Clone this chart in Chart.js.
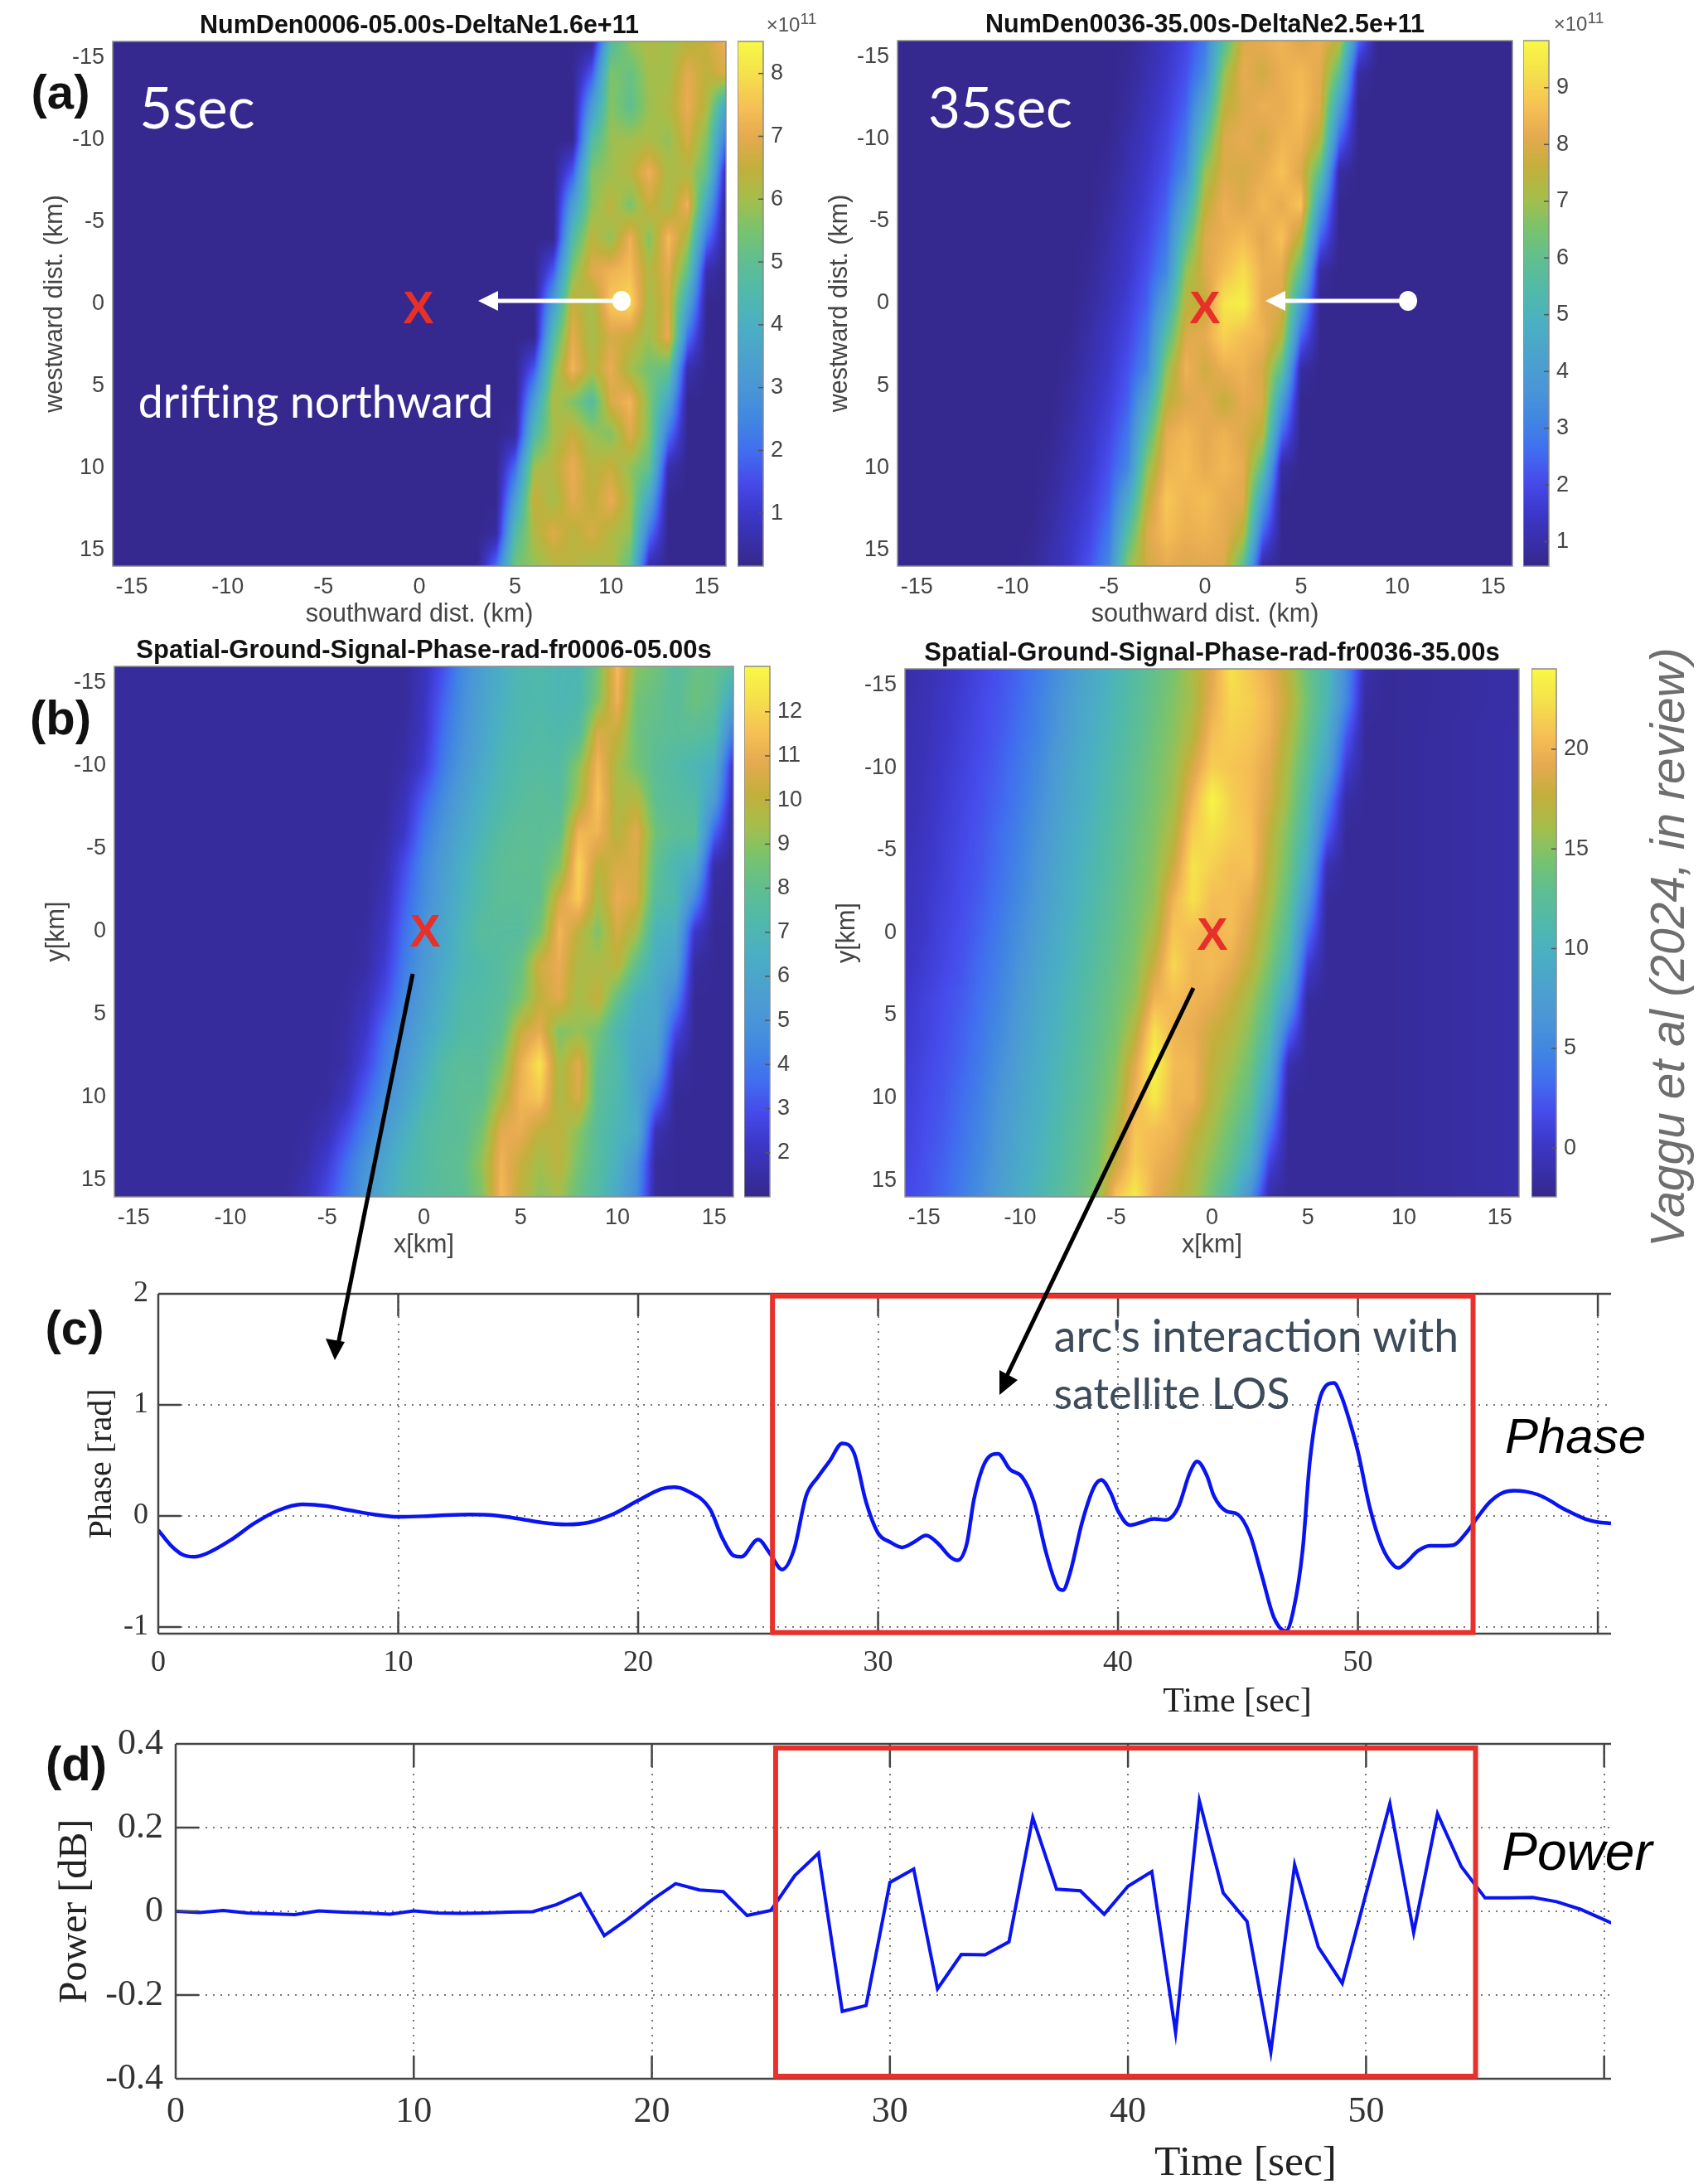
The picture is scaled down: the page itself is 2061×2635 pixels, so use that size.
<!DOCTYPE html>
<html>
<head>
<meta charset="utf-8">
<title>Arc drift, phase and power</title>
<script src="https://cdn.jsdelivr.net/npm/chart.js@4/dist/chart.umd.js"></script>
<style>
    html, body { margin: 0; padding: 0; background: #fff; }
    #page { position: relative; width: 2061px; height: 2635px; overflow: hidden; }
    #page canvas { position: absolute; }
    .note { position: absolute; white-space: nowrap; transform: translate(-50%, -50%); z-index: 5; }
    svg { position: absolute; left: 0; top: 0; z-index: 4; }
    sup { font-size: 0.8em; }
</style>
</head>
<body>
<div id="page"></div>
<script>
// km axis of the four maps
const kmTicks = [-15, -10, -5, 0, 5, 10, 15];
const kmRows = [-16, -14, -12, -10, -8, -6, -4, -2, 0, 2, 4, 6, 8, 10, 12, 14, 16];

// (a) 5 sec, density in 1e11
const den5Cols = [-16, 3, 4, 5, 6, 7, 8, 9, 10, 11, 12, 13, 14, 15, 16];
const den5 = [
    [.2,.2,.2,.2,.2,.2,.2,.2,4.6,5.8,6.2,6,6.3,6.6,7.2],
    [.2,.2,.2,.2,.2,.2,.2,1.7,5.6,5.2,6,6,7,6.4,6.8],
    [.2,.2,.2,.2,.2,.2,.2,3.2,5.7,5,5.9,6.2,7.1,6.2,3.6],
    [.2,.2,.2,.2,.2,.2,.2,4.6,5.9,6,6.1,5.8,6.8,5.6,2.1],
    [.2,.2,.2,.2,.2,.2,1.7,5.6,5.9,6.3,7.2,6.1,6.2,5.1,.6],
    [.2,.2,.2,.2,.2,.2,3.3,5.7,6.4,5.5,6.6,6,7.2,3.6,.2],
    [.2,.2,.2,.2,.2,.2,4.6,6.4,5.8,7.2,5.6,7.4,6.1,2.1,.2],
    [.2,.2,.2,.2,.2,1.7,5.6,6.9,7.2,7.4,6.2,7,5.1,.6,.2],
    [.2,.2,.2,.2,.2,3.3,6.6,6,7.6,7.9,6,6.8,3.6,.2,.2],
    [.2,.2,.2,.2,.2,4.6,7,6,6.8,6.6,5.9,7.1,2.1,.2,.2],
    [.2,.2,.2,.2,1.7,5.6,7.3,6.2,7.1,6,5.4,5.1,.6,.2,.2],
    [.2,.2,.2,.2,3.3,6.2,5.6,4.7,6.8,7.3,5.6,3.6,.2,.2,.2],
    [.2,.2,.2,.4,4.6,6,6.6,5.9,5.6,6.9,5.6,2.1,.2,.2,.2],
    [.2,.2,.2,2,6,6.3,7.1,6.3,6.6,5.8,5.1,.6,.2,.2,.2],
    [.2,.2,.2,3.3,6.6,6,7,6.4,7.1,6,3.6,.2,.2,.2,.2],
    [.2,.2,.4,4.6,6.2,6.9,6.3,6.8,6.2,5.8,2.1,.2,.2,.2,.2],
    [.2,.2,2,5.4,5.8,6.2,6.4,6,6.2,5.1,.6,.2,.2,.2,.2],
];
const den5Ticks = [1, 2, 3, 4, 5, 6, 7, 8];

// (a) 35 sec, density in 1e11
const den35Cols = [-16, -10, -9, -8, -7, -6, -5, -4, -3, -2, -1, 0, 1, 2, 3, 4, 5, 6, 7, 8, 9, 16];
const den35 = [
    [.6,.6,.6,.6,.6,.6,.6,.65,1,1.4,1.9,2.8,5.7,8,8.2,8.4,8,8.3,7.4,2.5,.6,.6],
    [.6,.6,.6,.6,.6,.6,.6,.75,1.1,1.55,2.1,3.3,6.9,8.2,7.8,8.3,8.5,8.1,5.9,.9,.6,.6],
    [.6,.6,.6,.6,.6,.6,.6,.85,1.25,1.7,2.4,4.5,7.5,8,8.3,8.2,8.6,8,4,.6,.6,.6],
    [.6,.6,.6,.6,.6,.6,.65,1,1.4,1.9,2.8,5.7,8,8.2,7.9,8.4,8.4,7.4,2.5,.6,.6,.6],
    [.6,.6,.6,.6,.6,.6,.75,1.1,1.55,2.1,3.3,6.9,8,7.9,8.2,8.7,8,5.9,.9,.6,.6,.6],
    [.6,.6,.6,.6,.6,.6,.85,1.25,1.7,2.4,4.5,7.5,8.3,8,8.5,8.2,8.8,4,.6,.6,.6,.6],
    [.6,.6,.6,.6,.6,.65,1,1.4,1.9,2.8,5.7,8,8.3,8.6,8.1,8.7,7.4,2.5,.6,.6,.6,.6],
    [.6,.6,.6,.6,.6,.75,1.1,1.5,2.15,3.2,6.8,8,8.6,9.2,8.3,8.2,5.9,.9,.6,.6,.6,.6],
    [.6,.6,.6,.6,.6,.85,1.2,1.7,2.4,4.4,7.5,7.6,9.4,9.6,8.2,8,4,.6,.6,.6,.6,.6],
    [.6,.6,.6,.6,.65,1,1.4,1.9,2.8,5.7,8,8.2,9,8.6,8.4,7.4,2.5,.6,.6,.6,.6,.6],
    [.6,.6,.6,.6,.75,1.1,1.5,2.15,3.2,6.8,8.4,7.8,8.3,8.4,7.9,5.9,.9,.6,.6,.6,.6,.6],
    [.6,.6,.6,.6,.85,1.25,1.7,2.4,4.5,7.5,8,8.2,7.6,8.2,8,4,.6,.6,.6,.6,.6,.6],
    [.6,.6,.6,.65,1,1.4,1.9,2.8,5.7,8.2,8.5,8.1,8.4,8,7.4,2.5,.6,.6,.6,.6,.6,.6],
    [.6,.6,.6,.75,1.1,1.5,2.15,3.2,6.8,8.4,8.6,8.2,8.5,8.2,5.9,.9,.6,.6,.6,.6,.6,.6],
    [.6,.6,.6,.85,1.25,1.7,2.4,4.5,7.5,8.8,8.4,8.6,8.2,8.1,4,.6,.6,.6,.6,.6,.6,.6],
    [.6,.6,.65,1,1.4,1.9,2.8,5.7,8,8.6,8.3,8.4,8.2,7.4,2.5,.6,.6,.6,.6,.6,.6,.6],
    [.6,.6,.75,1.1,1.5,2.15,3.2,6.8,7.8,8.2,8,8.1,8,5.9,.9,.6,.6,.6,.6,.6,.6,.6],
];
const den35Ticks = [1, 2, 3, 4, 5, 6, 7, 8, 9];

// (b) 5 sec, phase in rad
const ph5Cols = [-16, -9, -8, -7, -6, -5, -4, -3, -2, -1, 0, 1, 2, 3, 4, 5, 6, 7, 8, 9, 10, 11, 12, 13, 14, 15, 16];
const ph5 = [
    [1.3,1.3,1.3,1.3,1.3,1.3,1.3,1.3,1.3,1.3,1.9,3,4.5,5.6,6.5,7.1,7.3,7,7,8.5,11.4,9,8.5,7.6,8.2,8.2,7.5],
    [1.3,1.3,1.3,1.3,1.3,1.3,1.3,1.3,1.3,1.3,2,3.4,4.7,5.8,6.6,7.1,7.2,7,7.1,8.8,11.2,8.5,8.2,7.7,8.4,8,6],
    [1.3,1.3,1.3,1.3,1.3,1.3,1.3,1.3,1.3,1.4,2.1,3.7,4.9,5.9,6.8,7.2,7.4,7.2,7.5,10.6,10.2,8.4,8,7.8,7.8,7.5,4],
    [1.3,1.3,1.3,1.3,1.3,1.3,1.3,1.3,1.3,1.5,2.4,4,5.2,6.2,7,7.4,7.5,7.4,9,11.3,9.5,8.6,7.8,7.4,7,6.5,2],
    [1.3,1.3,1.3,1.3,1.3,1.3,1.3,1.3,1.3,1.9,3.3,4.6,5.7,6.6,7.2,7.6,7.8,7.6,9.5,11.6,9.6,9.8,7.9,7.6,7.4,5.5,1.5],
    [1.3,1.3,1.3,1.3,1.3,1.3,1.3,1.3,1.4,2.2,3.9,5.1,6.1,6.9,7.6,7.9,7.8,8,11.2,11.2,9.8,10.8,8.4,7.8,7.8,3.5,1.3],
    [1.3,1.3,1.3,1.3,1.3,1.3,1.3,1.3,1.6,2.9,4.4,5.5,6.5,7.3,7.8,8,7.9,8.8,12,10,10.5,10.6,8,7,6.5,1.6,1.2],
    [1.3,1.3,1.3,1.3,1.3,1.3,1.3,1.3,1.8,3.3,4.6,5.7,6.7,7.4,7.9,7.8,8,10.5,11.8,9.5,11,10.5,7.6,7.2,4.5,1.3,1.2],
    [1.3,1.3,1.3,1.3,1.3,1.3,1.3,1.4,2.1,3.7,5,6,7,7.7,7.6,7.6,8.6,11.3,10,8.8,10.5,9.5,6.8,6.5,2.2,1.2,1.2],
    [1.3,1.3,1.3,1.3,1.3,1.3,1.3,1.5,2.4,4,5.2,6.2,7,7.3,7.6,8.2,10.4,11,9.6,9.6,10,8,6.4,5.8,1.4,1.2,1.2],
    [1.3,1.3,1.3,1.3,1.3,1.3,1.4,1.8,2.9,4.4,5.5,6.5,7.3,7.4,7.7,8.6,10.1,10.8,9.4,10.2,8.2,6.6,6.2,4.4,1.2,1.2,1.2],
    [1.3,1.3,1.3,1.3,1.3,1.3,1.5,2.2,3.7,4.9,5.9,6.8,7.4,7.5,8,10.2,10.9,8.8,9.2,8.6,7,6.2,6.1,2.8,1.2,1.2,1.2],
    [1.3,1.3,1.3,1.3,1.3,1.3,1.6,2.7,4.1,5.3,6.4,7.5,7.8,7.7,8.8,11,12.4,9.4,10.8,8,7.3,6,5.5,1.6,1.2,1.2,1.2],
    [1.3,1.3,1.3,1.3,1.3,1.4,2,3.4,4.7,5.8,6.9,7.6,7.9,8,9.6,11.2,11.7,9.6,10.6,7.8,7.2,6.1,3.8,1.2,1.2,1.2,1.2],
    [1.3,1.3,1.3,1.3,1.4,1.8,2.9,4.2,5.4,6.5,7.4,7.7,7.8,8.6,10.8,11,10,10,9,7.6,6.9,6.4,1.8,1.2,1.2,1.2,1.2],
    [1.3,1.3,1.3,1.3,1.6,2.4,3.7,5,6,7,7.4,7.8,8,9.2,11.2,10.2,9.4,10,8.6,7.6,6.6,5,1.3,1.2,1.2,1.2,1.2],
    [1.3,1.3,1.3,1.4,1.9,2.9,4.1,5.3,6.3,7.1,7.5,7.7,7.9,8.8,11.4,10,9,9.4,8.2,7.4,6.2,4.6,1.3,1.2,1.2,1.2,1.2],
];
const ph5Ticks = [2, 3, 4, 5, 6, 7, 8, 9, 10, 11, 12];

// (b) 35 sec, phase in rad
const ph35Cols = [-16, -15, -14, -13, -12, -11, -10, -9, -8, -7, -6, -5, -4, -3, -2, -1, 0, 1, 2, 3, 4, 5, 6, 7, 8, 9, 16];
const ph35 = [
    [-1.3,-.8,-.2,.5,1.3,2.1,3,4.2,5.8,7.7,9.2,10.5,11.9,13.2,14.5,16.5,19,22.6,21,19.5,17,13.5,11,5.5,-1,-1.9,-1.2],
    [-1.2,-.7,0,.7,1.6,2.3,3.3,4.6,6.3,8.2,9.5,10.9,12.2,13.5,14.9,16.3,19.5,22,21.5,20,17.6,14,10.8,5,-1.6,-1.9,-1.2],
    [-1,-.6,.1,.9,1.7,2.5,3.6,4.8,6.8,8.5,9.9,11.2,12.5,13.9,15.2,17,20.5,21.5,21,19.8,16.8,13.5,9.6,2.5,-1.9,-1.9,-1.1],
    [-.9,-.4,.3,1.1,1.9,2.8,4,5.4,7.4,9,10.3,11.6,13,14.3,15.6,18.5,21.5,21,20.5,19,16,12.5,8,.5,-1.9,-1.9,-1.1],
    [-.8,-.3,.5,1.3,2.1,3,4.2,5.8,7.7,9.2,10.5,11.9,13.2,14.5,16,20,23.8,21.5,20.5,18.5,15.5,11.5,5,-1.4,-1.9,-1.9,-1.1],
    [-.7,-.1,.7,1.5,2.3,3.4,4.6,6.4,8.2,9.6,10.9,12.3,13.6,14.9,16.8,21.5,22.5,21.5,20.8,17.5,14.5,10.5,2.5,-1.9,-1.9,-1.9,-1.1],
    [-.5,0,.8,1.7,2.4,3.6,4.9,6.8,8.5,9.9,11.2,12.5,13.9,15.2,18,22.6,21.5,20.5,20.8,17,14,9,-.8,-1.9,-1.9,-1.9,-1.1],
    [-.4,.2,1,1.8,2.7,3.9,5.3,7.2,8.8,10.2,11.5,12.9,14.2,15.6,20,22.5,20.5,20.6,19.5,16.5,13,6.5,-1.8,-1.9,-1.9,-1.9,-1.1],
    [-.3,.3,1.2,2,3,4.3,5.9,7.7,9.3,10.6,11.9,13.2,14.5,16.5,21,20.5,20,20.5,18.5,15.5,12,3.5,-1.9,-1.9,-1.9,-1.9,-1.1],
    [-.1,.6,1.4,2.2,3.4,4.6,6.4,8.2,9.6,10.9,12.3,13.6,14.9,18,22,20,20.5,19.5,17.5,14.5,10.5,.5,-1.9,-1.9,-1.9,-1.9,-1.1],
    [.2,1,1.8,2.5,3.7,5,7,8.7,10,11.3,12.7,14,15.5,20,20.5,20,19.5,18,16,13,7.5,-1.7,-1.9,-1.9,-1.9,-1.9,-1.1],
    [.3,1.1,1.9,2.8,4,5.4,7.4,9,10.3,11.6,13,14.3,17,22.5,20,19.5,18,17,15,11.5,3,-1.9,-1.9,-1.9,-1.9,-1.9,-1.1],
    [.6,1.4,2.1,3,4.3,6,7.9,9.4,10.7,12,13.3,15,19,23.8,20.5,20,17.5,16,14,9.5,-1,-1.9,-1.9,-1.9,-1.9,-1.9,-1.1],
    [.8,1.6,2.3,3.4,4.7,6.6,8.2,9.6,10.9,12.3,13.6,15.5,20,23,20,20,17,15,13,7,-1.9,-1.9,-1.9,-1.9,-1.9,-1.9,-1.1],
    [1,1.8,2.5,3.7,5,7,8.7,10,11.3,12.7,14,16.5,21,20.5,20,18,16,14,11.5,4,-1.9,-1.9,-1.9,-1.9,-1.9,-1.9,-1.1],
    [1.2,2,2.8,4,5.4,7.4,9,10.3,11.6,13,14.3,18,21.5,20,19,17,15,13,9.5,1,-1.9,-1.9,-1.9,-1.9,-1.9,-1.9,-1.1],
    [1.5,2.1,3,4.3,5.8,7.9,9.4,10.7,12,13.3,15,21,23,19.5,18,16.5,14,11,6,-1.4,-1.9,-1.9,-1.9,-1.9,-1.9,-1.9,-1.1],
];
const ph35Ticks = [0, 5, 10, 15, 20];

// (c) phase series
const phaseTime = [0,.5,1,1.5,2,3,4,5,6,7,8,9,10,11,12,13,14,15,16,17,18,19,20,21,21.5,22,23,23.5,24,24.3,25,25.5,26,26.5,27,27.5,28,28.5,29,29.5,30,30.5,31,31.5,32,32.5,33,33.3,33.7,34,34.5,35,35.5,36,36.5,37,37.5,37.7,38,38.5,39,39.3,39.7,40,40.5,41,41.5,42,42.5,43,43.3,43.7,44,44.5,45,45.5,46,46.5,47,47.3,47.7,48,48.5,49,49.3,49.7,50,50.5,51,51.5,51.7,52,52.5,53,53.5,54,54.5,55,55.5,56,56.5,57,57.5,58,58.5,59,59.5,60,60.55];
const phaseValue = [-.128,-.26,-.347,-.368,-.34,-.22,-.067,.05,.104,.09,.05,.013,-.008,-.003,.008,.013,.005,-.024,-.06,-.077,-.056,.02,.139,.245,.26,.232,.059,-.195,-.36,-.368,-.213,-.34,-.483,-.3,.18,.352,.5,.653,.565,.125,-.155,-.235,-.283,-.235,-.176,-.248,-.368,-.4,-.248,.152,.499,.56,.419,.352,.125,-.328,-.648,-.669,-.515,-.061,.259,.325,.205,.045,-.083,-.056,-.027,-.035,.072,.392,.491,.365,.179,.045,.013,-.168,-.541,-.915,-1.035,-.861,-.3,.499,1.112,1.197,1.085,.819,.579,.072,-.275,-.448,-.467,-.421,-.315,-.269,-.269,-.261,-.155,-.008,.125,.205,.227,.219,.192,.139,.072,.019,-.029,-.056,-.067];
const phaseTicks = [-1, 0, 1, 2];
const phaseWindow = [25.6, 54.8];

// (d) power series
const powerTime = [0,1,2,3,4,5,6,7,8,9,10,11,12,13,14,15,16,17,18,19,20,21,22,23,24,25,26,27,28,29,30,31,32,33,34,35,36,37,38,39,40,41,42,43,44,45,46,47,48,49,50,51,52,53,54,55,56,57,58,59,60,61];
const powerValue = [0,-.003,.002,-.004,-.006,-.008,.001,-.002,-.004,-.007,.001,-.004,-.005,-.004,-.002,-.001,.016,.042,-.058,-.018,.027,.066,.051,.047,-.01,.002,.085,.139,-.239,-.225,.069,.101,-.185,-.103,-.104,-.073,.224,.053,.049,-.007,.06,.095,-.29,.264,.044,-.024,-.336,.111,-.086,-.172,.043,.257,-.051,.233,.107,.032,.032,.033,.023,.005,-.02,-.046];
const powerTicks = [-.4, -.2, 0, .2, .4];
const powerWindow = [25.2, 54.6];

const timeTicks = [0, 10, 20, 30, 40, 50, 60];

// colour map
const mapStops = [
    [0, 53, 40, 140], [.1, 60, 55, 200], [.16, 70, 75, 235], [.22, 65, 110, 240],
    [.28, 65, 135, 225], [.34, 75, 150, 215], [.46, 75, 175, 195], [.52, 80, 185, 170],
    [.58, 95, 190, 145], [.64, 120, 195, 110], [.7, 165, 190, 75], [.76, 195, 175, 60],
    [.82, 230, 170, 80], [.87, 245, 190, 85], [.94, 245, 225, 75], [1, 248, 248, 70],
];

const SANS = '"Liberation Sans", Arial, sans-serif';
const SERIF = '"Liberation Serif", "Times New Roman", serif';
const page = document.getElementById("page");

function mapColor(t) {
    t = Math.min(1, Math.max(0, t));
    let i = 1;
    while (i < mapStops.length - 1 && mapStops[i][0] < t) i++;
    const a = mapStops[i - 1], b = mapStops[i];
    const f = (t - a[0]) / (b[0] - a[0]);
    return [a[1] + (b[1] - a[1]) * f, a[2] + (b[2] - a[2]) * f, a[3] + (b[3] - a[3]) * f];
}

function findCell(list, v) {
    let i = 0;
    while (i < list.length - 2 && list[i + 1] < v) i++;
    const f = (v - list[i]) / (list[i + 1] - list[i]);
    return [i, Math.min(1, Math.max(0, f))];
}

function addCanvas(left, top, width, height) {
    const c = document.createElement("canvas");
    c.width = width;
    c.height = height;
    c.style.left = left + "px";
    c.style.top = top + "px";
    c.style.width = width + "px";
    c.style.height = height + "px";
    page.appendChild(c);
    return c;
}

function fixedTicks(values) {
    return function (scale) {
        scale.ticks = values.map((v) => ({ value: v }));
    };
}

// paints the cell table through the chart's own scales
function heatPlugin(cols, rows, matrix, vmin, vmax) {
    return {
        id: "heat",
        beforeDatasetsDraw(chart) {
            const { ctx, chartArea: area, scales } = chart;
            const w = Math.round(area.width), h = Math.round(area.height);
            const off = document.createElement("canvas");
            off.width = w;
            off.height = h;
            const octx = off.getContext("2d");
            const img = octx.createImageData(w, h);
            for (let py = 0; py < h; py++) {
                const [r, fr] = findCell(rows, scales.y.getValueForPixel(area.top + py + 0.5));
                for (let px = 0; px < w; px++) {
                    const [c, fc] = findCell(cols, scales.x.getValueForPixel(area.left + px + 0.5));
                    const top = matrix[r][c] * (1 - fc) + matrix[r][c + 1] * fc;
                    const low = matrix[r + 1][c] * (1 - fc) + matrix[r + 1][c + 1] * fc;
                    const rgb = mapColor(((top * (1 - fr) + low * fr) - vmin) / (vmax - vmin));
                    const k = (py * w + px) * 4;
                    img.data[k] = rgb[0];
                    img.data[k + 1] = rgb[1];
                    img.data[k + 2] = rgb[2];
                    img.data[k + 3] = 255;
                }
            }
            octx.putImageData(img, 0, 0);
            ctx.drawImage(off, area.left, area.top);
            ctx.strokeStyle = "#8c8c8c";
            ctx.lineWidth = 1.5;
            ctx.strokeRect(area.left, area.top, area.width, area.height);
        },
    };
}

const gradientPlugin = {
    id: "gradientBar",
    beforeDatasetsDraw(chart) {
        const { ctx, chartArea: area, scales } = chart;
        const y = scales.y;
        for (let py = Math.floor(area.top); py < area.bottom; py++) {
            const rgb = mapColor((y.getValueForPixel(py + 0.5) - y.min) / (y.max - y.min));
            ctx.fillStyle = `rgb(${rgb[0]},${rgb[1]},${rgb[2]})`;
            ctx.fillRect(area.left, py, area.width, 1);
        }
        ctx.strokeStyle = "#8c8c8c";
        ctx.lineWidth = 1.5;
        ctx.strokeRect(area.left, area.top, area.width, area.height);
        ctx.strokeStyle = "#555";
        y.ticks.forEach((t) => {
            const p = y.getPixelForValue(t.value);
            ctx.beginPath();
            ctx.moveTo(area.right - 6, p);
            ctx.lineTo(area.right, p);
            ctx.stroke();
        });
    },
};

function heatPanel(p) {
    const ml = 88, mb = 77, mt = 46, mr = 6;
    const canvas = addCanvas(p.left - ml, p.top - mt, p.width + ml + mr, p.height + mt + mb);
    const tickFont = { family: SANS, size: 27 };
    const titleFont = { family: SANS, size: 30.5 };
    new Chart(canvas, {
        type: "scatter",
        data: { datasets: [{ data: [], pointRadius: 0 }] },
        plugins: [heatPlugin(p.cols, kmRows, p.matrix, p.vmin, p.vmax)],
        options: {
            responsive: false,
            animation: false,
            devicePixelRatio: 1,
            layout: { padding: { right: mr } },
            plugins: {
                legend: { display: false },
                tooltip: { enabled: false },
                title: {
                    display: true,
                    fullSize: false,
                    text: p.title,
                    color: "#111",
                    font: { family: SANS, size: p.titleSize, weight: "bold", lineHeight: 1.2 },
                    padding: { top: 46 - p.titleSize * 1.2, bottom: 0 },
                },
            },
            scales: {
                x: {
                    min: -16, max: 16,
                    afterBuildTicks: fixedTicks(kmTicks),
                    afterFit(s) { s.height = mb; },
                    grid: { display: false, drawTicks: false },
                    border: { display: false },
                    ticks: { color: "#444", font: tickFont, padding: 9, maxRotation: 0, autoSkip: false },
                    title: { display: true, text: p.xTitle, color: "#444", font: titleFont, padding: 0 },
                },
                y: {
                    min: -16, max: 16, reverse: true,
                    afterBuildTicks: fixedTicks(kmTicks),
                    afterFit(s) { s.width = ml; },
                    grid: { display: false, drawTicks: false },
                    border: { display: false },
                    ticks: { color: "#444", font: tickFont, padding: 10, autoSkip: false },
                    title: { display: true, text: p.yTitle, color: "#444", font: titleFont, padding: 0 },
                },
            },
        },
    });

    const labelW = 50;
    const barCanvas = addCanvas(p.barLeft, p.top - 40, p.barWidth + labelW, p.height + 80);
    new Chart(barCanvas, {
        type: "scatter",
        data: { datasets: [{ data: [], pointRadius: 0 }] },
        plugins: [gradientPlugin],
        options: {
            responsive: false,
            animation: false,
            devicePixelRatio: 1,
            layout: { padding: { top: 40, bottom: 40 } },
            plugins: { legend: { display: false }, tooltip: { enabled: false } },
            scales: {
                x: { display: false, min: 0, max: 1 },
                y: {
                    position: "right",
                    min: p.vmin, max: p.vmax,
                    afterBuildTicks: fixedTicks(p.barTicks),
                    afterFit(s) { s.width = labelW; },
                    grid: { display: false, drawTicks: false },
                    border: { display: false },
                    ticks: { color: "#444", font: tickFont, padding: 9, autoSkip: false },
                },
            },
        },
    });
}

// box ticks that point inward, as in the source plots
const innerAxes = {
    id: "innerAxes",
    afterDatasetsDraw(chart, args, opts) {
        const { ctx, chartArea: a, scales: { x, y } } = chart;
        ctx.save();
        ctx.strokeStyle = "#444";
        ctx.lineWidth = opts.width;
        ctx.beginPath();
        ctx.moveTo(a.left, a.top); ctx.lineTo(a.right, a.top);
        ctx.moveTo(a.left, a.bottom); ctx.lineTo(a.right, a.bottom);
        ctx.moveTo(a.left, a.top); ctx.lineTo(a.left, a.bottom);
        x.ticks.forEach((t) => {
            const p = x.getPixelForValue(t.value);
            if (p <= a.left + 1) return;
            ctx.moveTo(p, a.top); ctx.lineTo(p, a.top + opts.length);
            ctx.moveTo(p, a.bottom); ctx.lineTo(p, a.bottom - opts.length);
        });
        y.ticks.forEach((t) => {
            const p = y.getPixelForValue(t.value);
            ctx.moveTo(a.left, p); ctx.lineTo(a.left + opts.length, p);
        });
        ctx.stroke();
        ctx.restore();
    },
};

const windowBox = {
    id: "windowBox",
    afterDatasetsDraw(chart, args, opts) {
        const { ctx, scales: { x, y } } = chart;
        const left = x.getPixelForValue(opts.span[0]), right = x.getPixelForValue(opts.span[1]);
        const top = y.getPixelForValue(opts.yRange[1]), bottom = y.getPixelForValue(opts.yRange[0]);
        ctx.save();
        ctx.strokeStyle = "#e8312a";
        ctx.lineWidth = 6;
        ctx.strokeRect(left, top, right - left, bottom - top);
        ctx.restore();
    },
};

function linePanel(p) {
    const canvas = addCanvas(p.left - p.ml, p.top - p.mt, p.width + p.ml + p.mr, p.height + p.mt + p.mb);
    const tickFont = { family: SERIF, size: p.tickSize };
    new Chart(canvas, {
        type: "line",
        data: {
            labels: p.time,
            datasets: [{
                data: p.time.map((t, i) => ({ x: t, y: p.values[i] })),
                borderColor: "#0a14f0",
                borderWidth: p.lineWidth,
                pointRadius: 0,
                fill: false,
                cubicInterpolationMode: p.smooth ? "monotone" : "default",
                tension: 0,
            }],
        },
        plugins: [innerAxes, windowBox],
        options: {
            responsive: false,
            animation: false,
            devicePixelRatio: 1,
            layout: { padding: { top: p.mt, right: p.mr } },
            plugins: {
                legend: { display: false },
                tooltip: { enabled: false },
                innerAxes: { width: 2.5, length: p.tickLen },
                windowBox: { span: p.span, yRange: p.boxY },
            },
            scales: {
                x: {
                    type: "linear",
                    min: 0, max: p.xMax,
                    afterBuildTicks: fixedTicks(timeTicks),
                    afterFit(s) { s.height = p.mb; },
                    grid: { color: "#777", lineWidth: 2, drawTicks: false },
                    border: { display: false, dash: [2, 7] },
                    ticks: {
                        color: "#333", font: tickFont, padding: p.xPad, maxRotation: 0, autoSkip: false,
                        callback: (v) => (v === 60 ? "" : v),
                    },
                },
                y: {
                    min: p.yMin, max: p.yMax,
                    afterBuildTicks: fixedTicks(p.yTicks),
                    afterFit(s) { s.width = p.ml; },
                    grid: { color: "#777", lineWidth: 2, drawTicks: false },
                    border: { display: false, dash: [2, 7] },
                    ticks: { color: "#333", font: tickFont, padding: p.yPad, autoSkip: false, callback: (v) => String(v) },
                    title: { display: true, text: p.yTitle, color: "#222", font: { family: SERIF, size: p.titleSize }, padding: 0 },
                },
            },
        },
    });
}

function note(html, x, y, css) {
    const d = document.createElement("div");
    d.className = "note";
    d.innerHTML = html;
    d.style.left = x + "px";
    d.style.top = y + "px";
    d.style.cssText += css;
    page.appendChild(d);
}

heatPanel({
    left: 136, top: 50, width: 740, height: 633, cols: den5Cols, matrix: den5,
    vmin: 0.16, vmax: 8.51, barLeft: 890, barWidth: 31, barTicks: den5Ticks, titleSize: 30.5,
    title: "NumDen0006-05.00s-DeltaNe1.6e+11", xTitle: "southward dist. (km)", yTitle: "westward dist. (km)",
});
heatPanel({
    left: 1083, top: 49, width: 742, height: 634, cols: den35Cols, matrix: den35,
    vmin: 0.57, vmax: 9.83, barLeft: 1838, barWidth: 31, barTicks: den35Ticks, titleSize: 30.5,
    title: "NumDen0036-35.00s-DeltaNe2.5e+11", xTitle: "southward dist. (km)", yTitle: "westward dist. (km)",
});
heatPanel({
    left: 138, top: 804, width: 747, height: 640, cols: ph5Cols, matrix: ph5,
    vmin: 1.0, vmax: 13.03, barLeft: 898, barWidth: 31, barTicks: ph5Ticks, titleSize: 31,
    title: "Spatial-Ground-Signal-Phase-rad-fr0006-05.00s", xTitle: "x[km]", yTitle: "y[km]",
});
heatPanel({
    left: 1092, top: 807, width: 741, height: 637, cols: ph35Cols, matrix: ph35,
    vmin: -2.45, vmax: 24.03, barLeft: 1848, barWidth: 30, barTicks: ph35Ticks, titleSize: 31,
    title: "Spatial-Ground-Signal-Phase-rad-fr0036-35.00s", xTitle: "x[km]", yTitle: "y[km]",
});

linePanel({
    left: 191, top: 1561, width: 1753, height: 410, ml: 92, mt: 60, mr: 20, mb: 60,
    time: phaseTime, values: phaseValue, smooth: true, lineWidth: 4.5,
    xMax: 60.55, yMin: -1.06, yMax: 2, yTicks: phaseTicks, span: phaseWindow, boxY: [-1.05, 1.98],
    tickSize: 36, titleSize: 40, tickLen: 27, xPad: 14, yPad: 12, yTitle: "Phase [rad]",
});
linePanel({
    left: 212, top: 2104, width: 1732, height: 404, ml: 149, mt: 60, mr: 20, mb: 70,
    time: powerTime, values: powerValue, smooth: false, lineWidth: 4,
    xMax: 60.29, yMin: -0.4, yMax: 0.4, yTicks: powerTicks, span: powerWindow, boxY: [-0.394, 0.39],
    tickSize: 44, titleSize: 48, tickLen: 28, xPad: 14, yPad: 15, yTitle: "Power [dB]",
});

// panel letters and call-outs
const panelCss = `font:bold 58px ${SANS};color:#111;`;
note("(a)", 73, 110, panelCss);
note("(b)", 73, 865, panelCss);
note("(c)", 90, 1601, panelCss);
note("(d)", 92, 2127, panelCss);

note("5sec", 238, 128, "font:69px Lato, sans-serif;color:#fff;");
note("35sec", 1207, 128, "font:67px Lato, sans-serif;color:#fff;");
note("drifting northward", 381, 483, "font:53.5px Lato, sans-serif;color:#fff;");

const crossCss = `font:bold 56px ${SANS};color:#e8302a;`;
note("X", 505, 370, crossCss);
note("X", 1454, 370, crossCss);
note("X", 513, 1122, crossCss);
note("X", 1463, 1126, crossCss);

note("×10<sup>11</sup>", 955, 28, `font:24px ${SANS};color:#555;`);
note("×10<sup>11</sup>", 1905, 27, `font:24px ${SANS};color:#555;`);

note("arc's interaction with", 1516, 1610, "font:53.5px Lato, sans-serif;color:#3c4a5a;");
note("satellite LOS", 1414, 1680, "font:52px Lato, sans-serif;color:#3c4a5a;");
note("Phase", 1901, 1732, `font:italic 60px ${SANS};color:#000;`);
note("Power", 1903, 2234, `font:italic 64px ${SANS};color:#000;`);
note("Time [sec]", 1493, 2051, `font:42px ${SERIF};color:#222;`);
note("Time [sec]", 1503, 2606, `font:51.5px ${SERIF};color:#222;`);
note("Vaggu et al (2024, in review)", 2012, 1143,
    `font:italic 57px ${SANS};color:#6e6e6e;transform:translate(-50%,-50%) rotate(-90deg);`);

page.insertAdjacentHTML("beforeend", `
<svg width="2061" height="2635" viewBox="0 0 2061 2635">
  <g stroke="#fff" fill="#fff">
    <line x1="750" y1="363" x2="595" y2="363" stroke-width="5"/>
    <ellipse cx="750" cy="363" rx="11" ry="12" stroke="none"/>
    <polygon points="577,363 601,351 601,375" stroke="none"/>
    <line x1="1699" y1="363" x2="1545" y2="363" stroke-width="5"/>
    <ellipse cx="1699" cy="363" rx="11" ry="12" stroke="none"/>
    <polygon points="1527,363 1551,351 1551,375" stroke="none"/>
  </g>
  <g stroke="#000" fill="#000">
    <line x1="498" y1="1175" x2="408" y2="1622" stroke-width="5"/>
    <polygon points="404,1641 393,1615 416,1619" stroke="none"/>
    <line x1="1440" y1="1192" x2="1213" y2="1664" stroke-width="5"/>
    <polygon points="1206,1683 1206,1653 1228,1665" stroke="none"/>
  </g>
</svg>`);
</script>
</body>
</html>
